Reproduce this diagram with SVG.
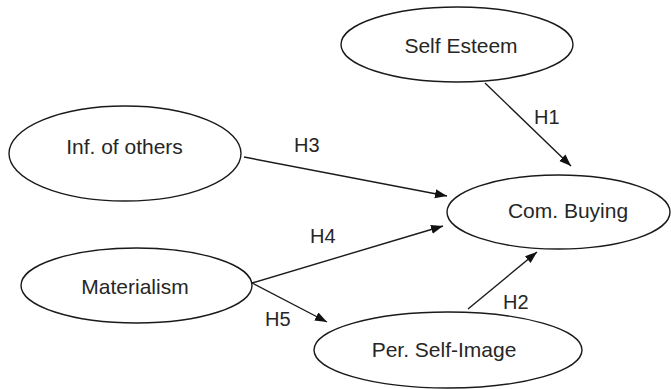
<svg xmlns="http://www.w3.org/2000/svg" width="671" height="389" viewBox="0 0 671 389">
<defs>
<style>
.node ellipse{fill:#fff;stroke:#1a1a1a;stroke-width:1.4}
.node text{font-family:"Liberation Sans",Arial,sans-serif;font-size:21px;fill:#262626;text-anchor:middle}
.edge line{stroke:#1a1a1a;stroke-width:1.4;marker-end:url(#arr)}
.lbl{font-family:"Liberation Sans",Arial,sans-serif;font-size:20px;fill:#262626}
</style>
<marker id="arr" markerUnits="userSpaceOnUse" markerWidth="13" markerHeight="10" refX="12" refY="4.5" orient="auto">
<path d="M0,0 L12,4.5 L0,9 z" fill="#111"/>
</marker>
</defs>
<rect width="671" height="389" fill="#fff"/>
<g id="connectors">
<g class="edge" id="e-h1"><line x1="485" y1="83" x2="571" y2="166"/></g>
<g class="edge" id="e-h3"><line x1="244" y1="157" x2="447" y2="196"/></g>
<g class="edge" id="e-h4"><line x1="252" y1="283" x2="443" y2="226"/></g>
<g class="edge" id="e-h5"><line x1="252" y1="283" x2="327" y2="322"/></g>
<g class="edge" id="e-h2"><line x1="468" y1="309" x2="537" y2="252"/></g>
<text class="lbl" x="534" y="124">H1</text>
<text class="lbl" x="294" y="152">H3</text>
<text class="lbl" x="310" y="243">H4</text>
<text class="lbl" x="265" y="326">H5</text>
<text class="lbl" x="503" y="309">H2</text>
</g>
<g class="node" id="n-self-esteem"><ellipse cx="457" cy="44.5" rx="116" ry="37.5"/><text x="461" y="53">Self Esteem</text></g>
<g class="node" id="n-inf-others"><ellipse cx="125" cy="153.5" rx="116" ry="47.5"/><text x="124.5" y="154">Inf. of others</text></g>
<g class="node" id="n-materialism"><ellipse cx="136.5" cy="285.5" rx="115.5" ry="37.5"/><text x="135" y="294">Materialism</text></g>
<g class="node" id="n-com-buying"><ellipse cx="558.5" cy="212" rx="111.5" ry="37"/><text x="568" y="218">Com. Buying</text></g>
<g class="node" id="n-self-image"><ellipse cx="448" cy="350" rx="134" ry="38"/><text x="444" y="357">Per. Self-Image</text></g>
</svg>
